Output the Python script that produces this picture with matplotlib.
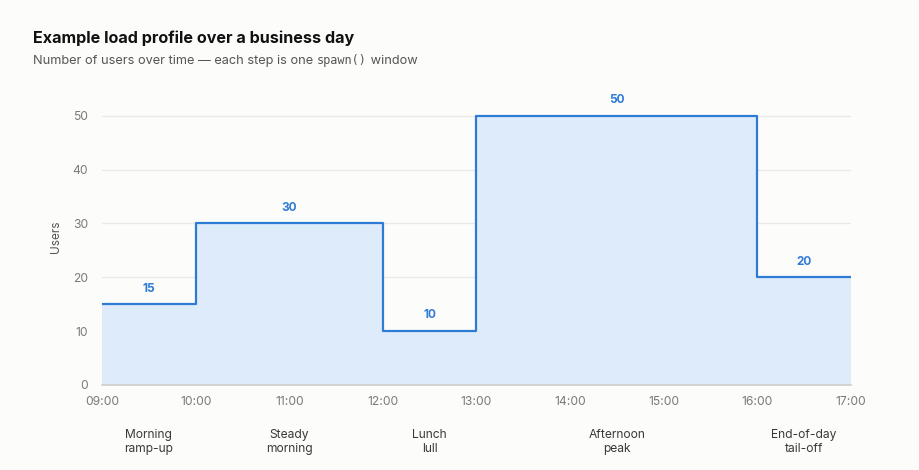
import matplotlib
matplotlib.use("Agg")
import matplotlib.pyplot as plt
import numpy as np

# Data
boundaries = ["09:00", "10:00", "12:00", "13:00", "16:00", "17:00"]
users = [15, 30, 10, 50, 20]
phase_labels = ["Morning\nramp-up", "Steady\nmorning", "Lunch\nlull", "Afternoon\npeak", "End-of-day\ntail-off"]
tick_hours = ["09:00", "10:00", "11:00", "12:00", "13:00", "14:00", "15:00", "16:00", "17:00"]
y_ticks = [0, 10, 20, 30, 40, 50]

def to_h(s):
    h, m = s.split(":")
    return int(h) + int(m) / 60

xb = np.array([to_h(s) for s in boundaries])
xt = np.array([to_h(s) for s in tick_hours])
vals = np.array(users, dtype=float)

plt.rcParams['font.family'] = ['Inter', 'DejaVu Sans']
BG = "#fcfcfb"
LINE = "#2e7bd6"
FILL = "#deebfa"

fig = plt.figure(figsize=(9.2, 4.7), dpi=100, facecolor=BG)
ax = fig.add_axes([0.1109, 0.1809, 0.814, 0.63], facecolor=BG)

xs = np.repeat(xb, 2)[1:-1]
ys = np.repeat(vals, 2)
ax.fill_between(xs, ys, 0, color=FILL, lw=0, zorder=1)
ax.plot(np.concatenate([[xb[0]], xs, [xb[-1]]]),
        np.concatenate([[vals[0]], ys, [vals[-1]]]), color=LINE, lw=1.6, zorder=3)

ax.set_xlim(xb[0], xb[-1])
ax.set_ylim(0, 55)
ax.set_yticks(y_ticks)
ax.set_xticks(xt)
ax.set_xticklabels(tick_hours)
ax.tick_params(axis='both', length=0, labelsize=8.7, colors="#7a7a7a")
ax.tick_params(axis='x', pad=8)
ax.tick_params(axis='y', pad=10)
ax.grid(axis='y', color="#e9e9e7", lw=1, zorder=0)
ax.set_axisbelow(True)
for s in ["top", "right", "left"]:
    ax.spines[s].set_visible(False)
ax.spines["bottom"].set_color("#cfcfcc")
ax.spines["bottom"].set_linewidth(1.2)
ax.set_ylabel("Users", fontsize=8.5, color="#555555", labelpad=8)

for i in range(len(vals)):
    mid = (xb[i] + xb[i + 1]) / 2
    ax.annotate(str(users[i]), (mid, vals[i]), xytext=(0, 7), textcoords="offset points",
                ha="center", va="bottom", fontsize=8.5, fontweight="bold", color=LINE)
    ax.annotate(phase_labels[i], (mid, 0), xycoords=("data", "axes fraction"),
                xytext=(0, -31.5), textcoords="offset points", ha="center", va="top",
                fontsize=8.7, color="#3a3a3a", linespacing=1.3)

fig.text(33 / 920, 1 - 38 / 470, "Example load profile over a business day", fontsize=11.6,
         fontweight="bold", color="#111111", va="center", ha="left")
t1 = fig.text(33 / 920, 1 - 64 / 470, "Number of users over time \u2014 each step is one ", fontsize=9.2,
              color="#555555", va="baseline", ha="left")
t2 = ax.annotate("spawn()", xy=(1, 0), xycoords=t1, va="bottom", ha="left", fontsize=8.6,
                 color="#555555", family="DejaVu Sans Mono", annotation_clip=False)
ax.annotate(" window", xy=(1, 0), xycoords=t2, va="bottom", ha="left", fontsize=9.2,
            color="#555555", annotation_clip=False)

fig.savefig("out.png", dpi=100, facecolor=BG)
